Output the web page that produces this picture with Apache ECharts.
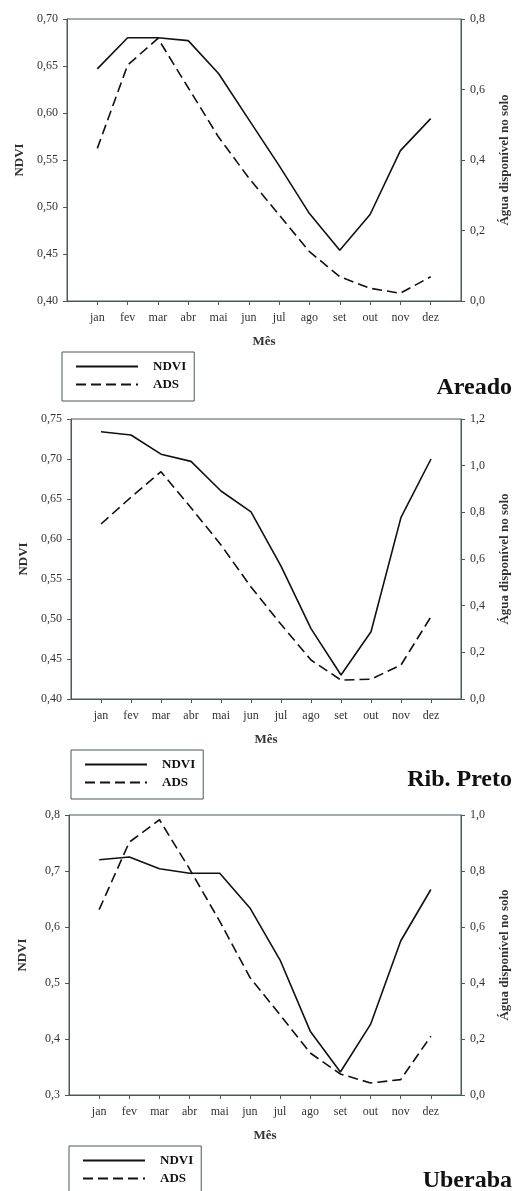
<!DOCTYPE html>
<html>
<head>
<meta charset="utf-8">
<script src="https://cdn.jsdelivr.net/npm/echarts@6/dist/echarts.min.js"></script>
<style>html,body{margin:0;padding:0;background:#fff}#c{width:519px;height:1191px}</style>
</head>
<body>
<div id="c"></div>
<script>
const months = ['jan','fev','mar','abr','mai','jun','jul','ago','set','out','nov','dez'];
const panelTitles = ['Areado','Rib. Preto','Uberaba'];
const areadoNdvi = [0.647,0.680,0.680,0.677,0.642,0.593,0.544,0.493,0.454,0.492,0.560,0.594];
const areadoAds  = [0.433,0.669,0.745,0.605,0.465,0.349,0.244,0.140,0.069,0.036,0.022,0.069];
const ribNdvi    = [0.734,0.730,0.706,0.697,0.660,0.634,0.566,0.488,0.430,0.484,0.627,0.700];
const ribAds     = [0.750,0.865,0.974,0.820,0.660,0.480,0.320,0.167,0.081,0.085,0.146,0.353];
const ubNdvi     = [0.720,0.725,0.704,0.696,0.696,0.634,0.541,0.414,0.341,0.426,0.575,0.667];
const ubAds      = [0.662,0.903,0.983,0.807,0.620,0.420,0.286,0.150,0.075,0.043,0.055,0.210];
const ndviTicks = [{min:0.40,max:0.70,interval:0.05,dec:2},{min:0.40,max:0.75,interval:0.05,dec:2},{min:0.3,max:0.8,interval:0.1,dec:1}];
const adsTicks  = [{min:0,max:0.8,interval:0.2},{min:0,max:1.2,interval:0.2},{min:0,max:1.0,interval:0.2}];

const ndviSets = [areadoNdvi, ribNdvi, ubNdvi];
const adsSets = [areadoAds, ribAds, ubAds];

const FONT = '"Liberation Serif", "DejaVu Serif", serif';
const AX = '#4d585c';
const TXT = '#333';

const layout = [
  {left:67, top:19, height:282, legTop:352, legLeft:62, titleTop:371},
  {left:71, top:419, height:280, legTop:750, legLeft:71, titleTop:763},
  {left:69, top:815, height:280, legTop:1146, legLeft:69, titleTop:1164}
];

const grid = [], xAxis = [], yAxis = [], series = [], legend = [], title = [];
layout.forEach((L, p) => {
  grid.push({left:L.left, top:L.top, height:L.height, right:56, show:true, borderColor:AX, borderWidth:1, backgroundColor:'transparent'});
  xAxis.push({
    type:'value', gridIndex:p, min:0, max:13, interval:1,
    name:'Mês', nameLocation:'middle', nameGap:34,
    nameTextStyle:{fontFamily:FONT, fontWeight:'bold', fontSize:13, color:TXT},
    axisLine:{show:true, lineStyle:{color:AX, width:1}},
    axisTick:{show:true, length:4, lineStyle:{color:AX}, customValues:[1,2,3,4,5,6,7,8,9,10,11,12]},
    axisLabel:{fontFamily:FONT, fontSize:12, color:TXT, margin:11, customValues:[1,2,3,4,5,6,7,8,9,10,11,12],
      formatter:v => months[Math.round(v)-1] || ''},
    splitLine:{show:false}
  });
  const nt = ndviTicks[p];
  yAxis.push({
    type:'value', gridIndex:p, position:'left', min:nt.min, max:nt.max, interval:nt.interval,
    name:'NDVI', nameLocation:'middle', nameGap:40, nameRotate:90,
    nameTextStyle:{fontFamily:FONT, fontWeight:'bold', fontSize:13, color:TXT},
    axisLine:{show:true, lineStyle:{color:AX, width:1}},
    axisTick:{show:true, length:4, lineStyle:{color:AX}},
    axisLabel:{fontFamily:FONT, fontSize:12, color:TXT, margin:9, formatter:v => v.toFixed(nt.dec).replace('.',',')},
    splitLine:{show:false}
  });
  const at = adsTicks[p];
  yAxis.push({
    type:'value', gridIndex:p, position:'right', min:at.min, max:at.max, interval:at.interval,
    name:'Água disponível no solo', nameLocation:'middle', nameGap:37, nameRotate:90,
    nameTextStyle:{fontFamily:FONT, fontWeight:'bold', fontSize:13, color:TXT},
    axisLine:{show:true, lineStyle:{color:AX, width:1}},
    axisTick:{show:true, length:4, lineStyle:{color:AX}},
    axisLabel:{fontFamily:FONT, fontSize:12, color:TXT, margin:9, formatter:v => v.toFixed(1).replace('.',',')},
    splitLine:{show:false}
  });
  series.push({
    name:'NDVI', type:'line', xAxisIndex:p, yAxisIndex:2*p, symbol:'none', animation:false,
    lineStyle:{color:'#111', width:1.6, type:'solid'},
    itemStyle:{color:'#111'},
    data: ndviSets[p].map((v,i)=>[i+1, v])
  });
  series.push({
    name:'ADS', type:'line', xAxisIndex:p, yAxisIndex:2*p+1, symbol:'none', animation:false,
    lineStyle:{color:'#111', width:1.6, type:[10,5]},
    itemStyle:{color:'#111'},
    data: adsSets[p].map((v,i)=>[i+1, v])
  });
  legend.push({
    orient:'vertical', left:L.legLeft, top:L.legTop, width:120, height:40, data:['NDVI','ADS'],
    itemWidth:62, itemHeight:12, itemGap:5, selectedMode:false,
    itemStyle:{opacity:0},
    borderColor:AX, borderWidth:1, padding:[8,8,10,13],
    textStyle:{fontFamily:FONT, fontWeight:'bold', fontSize:13, color:'#111', padding:[0,0,0,10]}
  });
  title.push({
    text: panelTitles[p], right:2, top:L.titleTop,
    textStyle:{fontFamily:FONT, fontWeight:'bold', fontSize:24, color:'#111'}
  });
});

const chart = echarts.init(document.getElementById('c'), null, {renderer:'canvas'});
chart.setOption({animation:false, backgroundColor:'#fff', grid, xAxis, yAxis, series, legend, title});
</script>
</body>
</html>
